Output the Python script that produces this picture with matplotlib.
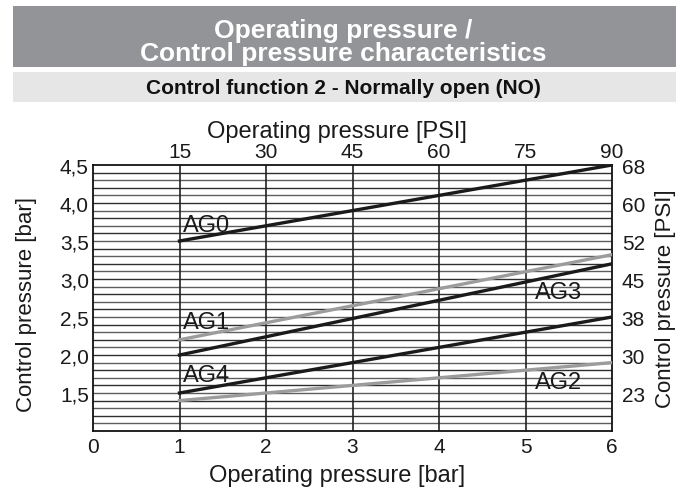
import matplotlib
matplotlib.use('Agg')
import matplotlib.pyplot as plt
from matplotlib.patches import Rectangle
import numpy as np

plt.rcParams['font.family'] = ['Liberation Sans', 'DejaVu Sans']

# operating pressure [bar] at start / end of each curve
x_bar = [1, 6]
# control pressure [bar]
ag0 = [3.5, 4.5]
ag1 = [2.2, 3.32]
ag3 = [2.0, 3.2]
ag4 = [1.5, 2.5]
ag2 = [1.4, 1.9]

bar_ticks = [1.5, 2.0, 2.5, 3.0, 3.5, 4.0, 4.5]
psi_right_labels = ['23', '30', '38', '45', '52', '60', '68']
x_ticks = [0, 1, 2, 3, 4, 5, 6]
psi_top_ticks = [1, 2, 3, 4, 5, 6]
psi_top_labels = ['15', '30', '45', '60', '75', '90']

W, H = 686, 489
fig = plt.figure(figsize=(W / 100, H / 100), dpi=100)

# header bars
fig.add_artist(Rectangle((13 / W, 1 - 68 / H), 663 / W, 61 / H,
                         transform=fig.transFigure, color='#939497', lw=0))
fig.add_artist(Rectangle((13 / W, 1 - 103 / H), 663 / W, 30 / H,
                         transform=fig.transFigure, color='#e6e6e7', lw=0))
fig.text(343 / W, 1 - 38 / H, 'Operating pressure /', color='white',
         fontsize=19, fontweight='bold', ha='center', va='baseline')
fig.text(343 / W, 1 - 61 / H, 'Control pressure characteristics', color='white',
         fontsize=19, fontweight='bold', ha='center', va='baseline')
fig.text(343 / W, 1 - 94 / H, 'Control function 2 - Normally open (NO)',
         color='#111111', fontsize=15, fontweight='bold', ha='center', va='baseline')

ax = fig.add_axes([93 / W, 1 - 432 / H, 519 / W, 266 / H])
ax.set_xlim(0, 6)
ax.set_ylim(1.0, 4.5)

# grid
for i, yv in enumerate(np.arange(1.1, 4.5, 0.1)):
    ax.axhline(yv, color='#2e2e2e' if i % 2 else '#5e5e5e', lw=1.0, zorder=1)
for xv in psi_top_ticks[:-1]:
    ax.axvline(xv, color='#222222', lw=1.2, zorder=1)

ax.plot(x_bar, ag0, color='#1a1a1a', lw=2.4, zorder=3)
ax.plot(x_bar, ag1, color='#9c9c9c', lw=2.4, zorder=3)
ax.plot(x_bar, ag3, color='#1a1a1a', lw=2.4, zorder=3)
ax.plot(x_bar, ag4, color='#1a1a1a', lw=2.4, zorder=3)
ax.plot(x_bar, ag2, color='#9c9c9c', lw=2.4, zorder=3)

lbl = dict(fontsize=17, color='#1a1a1a', va='baseline', ha='left', zorder=4)
ax.text(1.04, 3.635, 'AG0', **lbl)
ax.text(1.04, 2.35, 'AG1', **lbl)
ax.text(1.04, 1.656, 'AG4', **lbl)
ax.text(5.11, 2.744, 'AG3', **lbl)
ax.text(5.11, 1.564, 'AG2', **lbl)

for s in ax.spines.values():
    s.set_linewidth(1.3)
    s.set_color('#111111')

ax.set_xticks(x_ticks)
ax.set_xticklabels([str(t) for t in x_ticks])
ax.set_yticks(bar_ticks)
ax.set_yticklabels([('%.1f' % t).replace('.', ',') for t in bar_ticks])
ax.tick_params(axis='x', length=0, labelsize=15, pad=4, colors='#1a1a1a')
ax.tick_params(axis='y', length=0, labelsize=15, pad=3, colors='#1a1a1a')
ax.set_xlabel('Operating pressure [bar]', fontsize=17, color='#1a1a1a')
ax.xaxis.set_label_coords(0.47, -0.125)
ax.set_ylabel('Control pressure [bar]', fontsize=16, color='#1a1a1a')
ax.yaxis.set_label_coords(-0.107, 0.48)

axr = ax.twinx()
axr.set_ylim(ax.get_ylim())
axr.set_yticks(bar_ticks)
axr.set_yticklabels(psi_right_labels)
axr.tick_params(length=0, labelsize=15, pad=7, colors='#1a1a1a')
axr.set_ylabel('Control pressure [PSI]', fontsize=16, labelpad=7, color='#1a1a1a')

axt = ax.twiny()
axt.set_xlim(ax.get_xlim())
axt.set_xticks(psi_top_ticks)
axt.set_xticklabels(psi_top_labels)
axt.tick_params(length=0, labelsize=15, pad=3, colors='#1a1a1a')
axt.set_xlabel('Operating pressure [PSI]', fontsize=17, color='#1a1a1a')
axt.xaxis.set_label_coords(0.47, 1.105)
for a in (axr, axt):
    for s in a.spines.values():
        s.set_visible(False)

fig.savefig('out.png', dpi=100)
